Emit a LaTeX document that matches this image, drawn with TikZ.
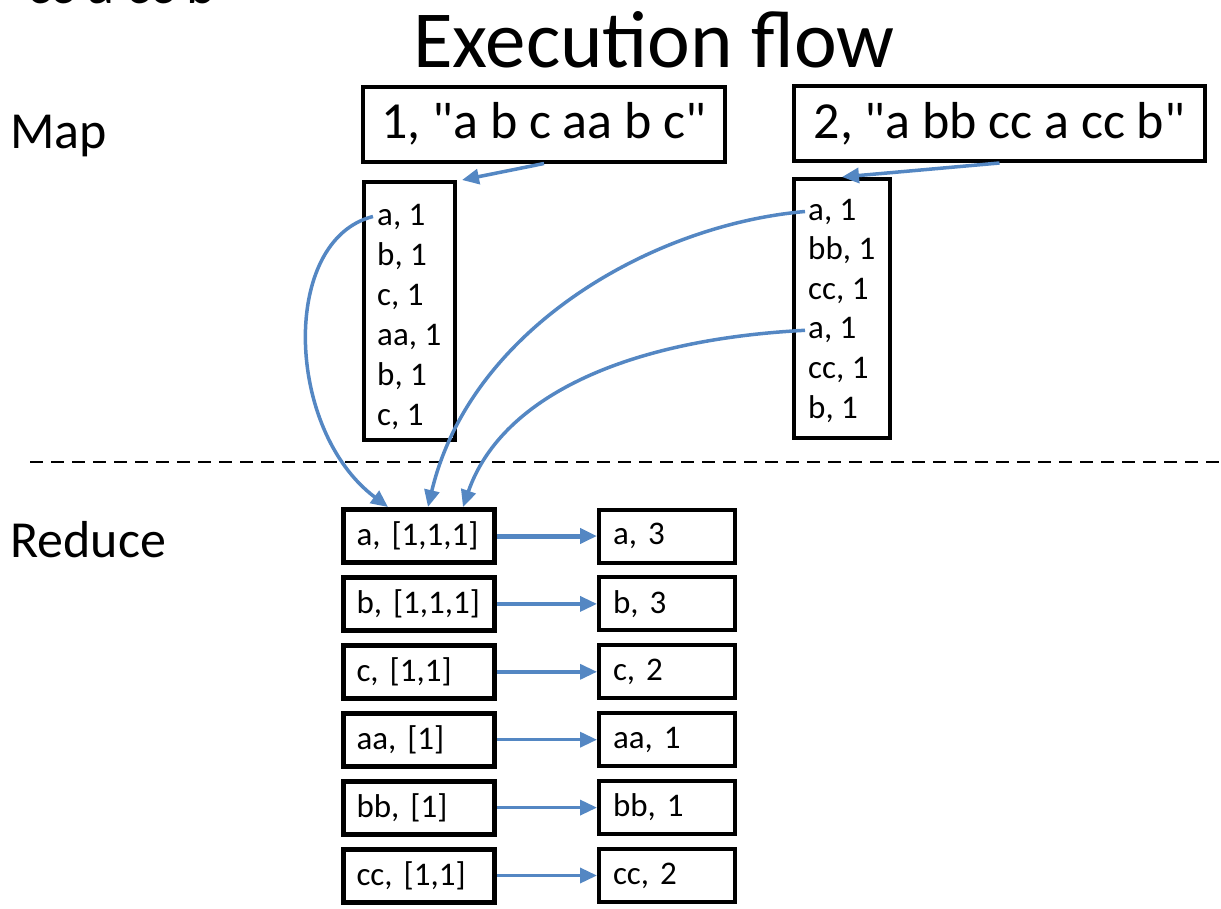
\documentclass[tikz,border=0pt]{standalone}
\usepackage{fontspec}
\setmainfont{Carlito}[Ligatures=TeXOff]
\frenchspacing
\usetikzlibrary{arrows.meta}
\definecolor{flowblue}{RGB}{84,135,195}

\begin{document}
\begin{tikzpicture}[x=1pt, y=-1pt,
		stage/.style={anchor=base west, inner sep=0pt, font=\fontsize{52}{62}\selectfont},
		inbox/.style={draw, line width=4pt, minimum height=75pt, inner sep=0pt, font=\fontsize{52}{62}\selectfont},
		mapbox/.style={draw, line width=4pt, inner sep=0pt},
		item/.style={anchor=base west, inner sep=0pt, font=\fontsize{33}{40}\selectfont},
		redbox/.style={draw, minimum height=53pt, align=left, inner xsep=13pt, inner ysep=0pt, font=\fontsize{33}{40}\selectfont},
		flow/.style={draw=flowblue, line width=3.5pt, -{Triangle[length=17pt,width=15pt]}}]
		% Page frame
		\clip (0,0) rectangle (1221,908);

		% Headings
		\node[stage, font=\fontsize{56}{66}\selectfont] (topcut) at (27,3) {cc a cc b};
		\node[anchor=base, inner sep=0pt, font=\fontsize{81}{96}\selectfont] (title) at (654,67) {Execution flow};
		\node[stage] (maplbl) at (10,148) {Map};
		\node[stage] (redlbl) at (10,557) {Reduce};

		% Input splits
		\node[inbox, minimum width=362pt] (in1) at (544,124) {1, "a b c aa b c"};
		\node[inbox, minimum width=411pt] (in2) at (999.5,123.5) {2, "a bb cc a cc b"};

		% Map outputs
		\node[mapbox, minimum width=91pt, minimum height=258pt] (m1) at (409.5,311) {};
		\node[mapbox, minimum width=96pt, minimum height=259pt] (m2) at (842,308.5) {};
		\foreach \w [count=\k] in {a,b,c,aa,b,c}
			\node[item] (m1i\k) at (377,{225+40*(\k-1)}) {\w, 1};
		\foreach \w [count=\k] in {a,bb,cc,a,cc,b}
			\node[item] (m2i\k) at (808,{220+39.6*(\k-1)}) {\w, 1};

		% Separator
		\draw[line width=2.5pt, dash pattern=on 13pt off 8pt] (30,462) -- (1221,462);

		% Reduce
		\foreach \l/\r [count=\i] in {{a, [1,1,1]}/{a, 3}, {b, [1,1,1]}/{b, 3}, {c, [1,1]}/{c, 2}, {aa, [1]}/{aa, 1}, {bb, [1]}/{bb, 1}, {cc, [1,1]}/{cc, 2}}
		{
			\node[redbox, line width=5pt, text width=125pt] (rl\i) at (419,{536+67.9*(\i-1)}) {\l};
			\node[redbox, line width=4pt, text width=108pt, inner xsep=14pt] (rr\i) at (667,{536+67.9*(\i-1)}) {\r};
			\draw[flow, line width={ifthenelse(\i==1,5,3.5)}] (rl\i) -- (rr\i);
		}

		% Map arrows
		\draw[flow] (in1.south) -- ([xshift=5pt]m1.north east);
		\draw[flow] (in2.south) -- (m2.north);

		% Shuffle arrows
		\draw[flow] ([xshift=-4pt]m1i1.west) .. controls (280,240) and (285,430) .. ([xshift=47pt]rl1.north west);
		\draw[flow] ([xshift=-3pt]m2i1.west) .. controls (650,225) and (470,330) .. ([xshift=87pt]rl1.north west);
		\draw[flow] ([xshift=-3pt]m2i4.west) .. controls (620,340) and (500,400) .. ([xshift=122pt]rl1.north west);
	\end{tikzpicture}
\end{document}
